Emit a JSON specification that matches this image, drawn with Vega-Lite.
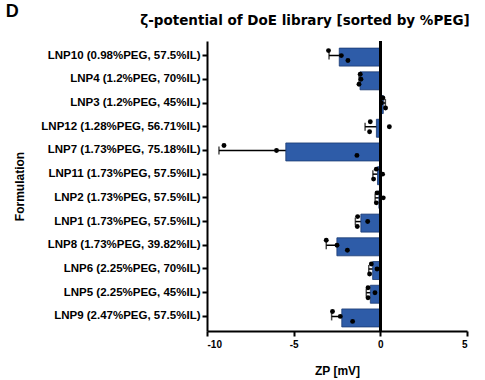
{
  "$schema": "https://vega.github.io/schema/vega-lite/v6.json",
  "padding": {"left": 5, "top": 2, "right": 5, "bottom": 5},
  "config": {"font": "Liberation Sans", "view": {"stroke": null}},
  "title": {"text": "D", "anchor": "start", "frame": "bounds", "fontSize": 18, "fontWeight": "bold", "offset": -7, "dx": -8, "color": "black"},
  "datasets": {
    "reps": [
      {"formulation": "LNP10 (0.98%PEG, 57.5%IL)", "rep": 1, "zp": -2.99},
      {"formulation": "LNP10 (0.98%PEG, 57.5%IL)", "rep": 2, "zp": -2.25},
      {"formulation": "LNP10 (0.98%PEG, 57.5%IL)", "rep": 3, "zp": -1.87},
      {"formulation": "LNP4 (1.2%PEG, 70%IL)", "rep": 1, "zp": -1.16},
      {"formulation": "LNP4 (1.2%PEG, 70%IL)", "rep": 2, "zp": -1.12},
      {"formulation": "LNP4 (1.2%PEG, 70%IL)", "rep": 3, "zp": -1.23},
      {"formulation": "LNP3 (1.2%PEG, 45%IL)", "rep": 1, "zp": 0.15},
      {"formulation": "LNP3 (1.2%PEG, 45%IL)", "rep": 2, "zp": 0.06},
      {"formulation": "LNP3 (1.2%PEG, 45%IL)", "rep": 3, "zp": 0.30},
      {"formulation": "LNP12 (1.28%PEG, 56.71%IL)", "rep": 1, "zp": -0.58},
      {"formulation": "LNP12 (1.28%PEG, 56.71%IL)", "rep": 2, "zp": 0.52},
      {"formulation": "LNP12 (1.28%PEG, 56.71%IL)", "rep": 3, "zp": -0.62},
      {"formulation": "LNP7 (1.73%PEG, 75.18%IL)", "rep": 1, "zp": -9.02},
      {"formulation": "LNP7 (1.73%PEG, 75.18%IL)", "rep": 2, "zp": -5.99},
      {"formulation": "LNP7 (1.73%PEG, 75.18%IL)", "rep": 3, "zp": -1.35},
      {"formulation": "LNP11 (1.73%PEG, 57.5%IL)", "rep": 1, "zp": -0.23},
      {"formulation": "LNP11 (1.73%PEG, 57.5%IL)", "rep": 2, "zp": 0.13},
      {"formulation": "LNP11 (1.73%PEG, 57.5%IL)", "rep": 3, "zp": -0.39},
      {"formulation": "LNP2 (1.73%PEG, 57.5%IL)", "rep": 1, "zp": -0.19},
      {"formulation": "LNP2 (1.73%PEG, 57.5%IL)", "rep": 2, "zp": 0.17},
      {"formulation": "LNP2 (1.73%PEG, 57.5%IL)", "rep": 3, "zp": -0.23},
      {"formulation": "LNP1 (1.73%PEG, 57.5%IL)", "rep": 1, "zp": -1.31},
      {"formulation": "LNP1 (1.73%PEG, 57.5%IL)", "rep": 2, "zp": -0.73},
      {"formulation": "LNP1 (1.73%PEG, 57.5%IL)", "rep": 3, "zp": -1.33},
      {"formulation": "LNP8 (1.73%PEG, 39.82%IL)", "rep": 1, "zp": -3.12},
      {"formulation": "LNP8 (1.73%PEG, 39.82%IL)", "rep": 2, "zp": -2.50},
      {"formulation": "LNP8 (1.73%PEG, 39.82%IL)", "rep": 3, "zp": -1.90},
      {"formulation": "LNP6 (2.25%PEG, 70%IL)", "rep": 1, "zp": -0.52},
      {"formulation": "LNP6 (2.25%PEG, 70%IL)", "rep": 2, "zp": -0.19},
      {"formulation": "LNP6 (2.25%PEG, 70%IL)", "rep": 3, "zp": -0.62},
      {"formulation": "LNP5 (2.25%PEG, 45%IL)", "rep": 1, "zp": -0.71},
      {"formulation": "LNP5 (2.25%PEG, 45%IL)", "rep": 2, "zp": -0.31},
      {"formulation": "LNP5 (2.25%PEG, 45%IL)", "rep": 3, "zp": -0.71},
      {"formulation": "LNP9 (2.47%PEG, 57.5%IL)", "rep": 1, "zp": -2.76},
      {"formulation": "LNP9 (2.47%PEG, 57.5%IL)", "rep": 2, "zp": -2.31},
      {"formulation": "LNP9 (2.47%PEG, 57.5%IL)", "rep": 3, "zp": -1.60}
    ],
    "errs": [
      {"formulation": "LNP10 (0.98%PEG, 57.5%IL)", "end": -2.96},
      {"formulation": "LNP4 (1.2%PEG, 70%IL)", "end": -1.23},
      {"formulation": "LNP3 (1.2%PEG, 45%IL)", "end": 0.29},
      {"formulation": "LNP12 (1.28%PEG, 56.71%IL)", "end": -0.88},
      {"formulation": "LNP7 (1.73%PEG, 75.18%IL)", "end": -9.31},
      {"formulation": "LNP11 (1.73%PEG, 57.5%IL)", "end": -0.43},
      {"formulation": "LNP2 (1.73%PEG, 57.5%IL)", "end": -0.30},
      {"formulation": "LNP1 (1.73%PEG, 57.5%IL)", "end": -1.44},
      {"formulation": "LNP8 (1.73%PEG, 39.82%IL)", "end": -3.12},
      {"formulation": "LNP6 (2.25%PEG, 70%IL)", "end": -0.67},
      {"formulation": "LNP5 (2.25%PEG, 45%IL)", "end": -0.81},
      {"formulation": "LNP9 (2.47%PEG, 57.5%IL)", "end": -2.81}
    ]
  },
  "vconcat": [
    {
      "width": 260,
      "height": 290,
      "title": {"text": "ζ-potential of DoE library [sorted by %PEG]", "font": "DejaVu Sans", "fontSize": 13.5, "fontWeight": "bold", "dx": -32, "dy": -9, "color": "black"},
      "data": {"name": "reps"},
      "layer": [
        {
          "data": {"name": "errs"},
          "mark": {"type": "rule", "color": "black", "strokeWidth": 1.5},
          "encoding": {
            "y": {"field": "formulation", "type": "nominal", "sort": ["LNP10 (0.98%PEG, 57.5%IL)", "LNP4 (1.2%PEG, 70%IL)", "LNP3 (1.2%PEG, 45%IL)", "LNP12 (1.28%PEG, 56.71%IL)", "LNP7 (1.73%PEG, 75.18%IL)", "LNP11 (1.73%PEG, 57.5%IL)", "LNP2 (1.73%PEG, 57.5%IL)", "LNP1 (1.73%PEG, 57.5%IL)", "LNP8 (1.73%PEG, 39.82%IL)", "LNP6 (2.25%PEG, 70%IL)", "LNP5 (2.25%PEG, 45%IL)", "LNP9 (2.47%PEG, 57.5%IL)"], "title": "Formulation"},
            "x": {"field": "end", "type": "quantitative", "title": "ZP [mV]"},
            "x2": {"datum": 0}
          }
        },
        {
          "data": {"name": "errs"},
          "mark": {"type": "tick", "color": "black", "thickness": 1.5, "size": 8},
          "encoding": {
            "y": {"field": "formulation", "type": "nominal", "sort": ["LNP10 (0.98%PEG, 57.5%IL)", "LNP4 (1.2%PEG, 70%IL)", "LNP3 (1.2%PEG, 45%IL)", "LNP12 (1.28%PEG, 56.71%IL)", "LNP7 (1.73%PEG, 75.18%IL)", "LNP11 (1.73%PEG, 57.5%IL)", "LNP2 (1.73%PEG, 57.5%IL)", "LNP1 (1.73%PEG, 57.5%IL)", "LNP8 (1.73%PEG, 39.82%IL)", "LNP6 (2.25%PEG, 70%IL)", "LNP5 (2.25%PEG, 45%IL)", "LNP9 (2.47%PEG, 57.5%IL)"], "title": "Formulation"},
            "x": {"field": "end", "type": "quantitative", "title": "ZP [mV]"}
          }
        },
        {
          "mark": {"type": "bar", "color": "#2E5CA8", "stroke": "#1B3A72", "strokeWidth": 0.8},
          "encoding": {
            "y": {"field": "formulation", "type": "nominal", "sort": ["LNP10 (0.98%PEG, 57.5%IL)", "LNP4 (1.2%PEG, 70%IL)", "LNP3 (1.2%PEG, 45%IL)", "LNP12 (1.28%PEG, 56.71%IL)", "LNP7 (1.73%PEG, 75.18%IL)", "LNP11 (1.73%PEG, 57.5%IL)", "LNP2 (1.73%PEG, 57.5%IL)", "LNP1 (1.73%PEG, 57.5%IL)", "LNP8 (1.73%PEG, 39.82%IL)", "LNP6 (2.25%PEG, 70%IL)", "LNP5 (2.25%PEG, 45%IL)", "LNP9 (2.47%PEG, 57.5%IL)"],
              "scale": {"paddingInner": 0.37, "paddingOuter": 0.3},
              "title": "Formulation",
              "axis": {"domainColor": "black", "domainWidth": 2, "tickColor": "black", "tickWidth": 2, "tickSize": 5, "labelFontSize": 11.5, "labelFontWeight": "bold", "labelColor": "black", "labelPadding": 2, "titleFontSize": 12, "titleFontWeight": "bold", "titleColor": "black", "titlePadding": 14}},
            "x": {"aggregate": "mean", "field": "zp", "type": "quantitative", "title": "ZP [mV]",
              "scale": {"domain": [-10, 5], "nice": false},
              "axis": {"values": [-10, -5, 0, 5], "labelExpr": "replace(datum.label, '−', '-')", "grid": false, "domainColor": "black", "domainWidth": 2, "tickColor": "black", "tickWidth": 2, "tickSize": 5, "labelFontSize": 10, "labelFontWeight": "bold", "labelColor": "black", "labelPadding": 3, "titleFontSize": 12, "titleFontWeight": "bold", "titleColor": "black", "titlePadding": 16}}
          }
        },
        {
          "mark": {"type": "rule", "color": "black", "strokeWidth": 2},
          "encoding": {"x": {"datum": 0, "type": "quantitative"}}
        },
        {
          "mark": {"type": "point", "filled": true, "color": "black", "size": 24, "opacity": 1},
          "encoding": {
            "y": {"field": "formulation", "type": "nominal", "sort": ["LNP10 (0.98%PEG, 57.5%IL)", "LNP4 (1.2%PEG, 70%IL)", "LNP3 (1.2%PEG, 45%IL)", "LNP12 (1.28%PEG, 56.71%IL)", "LNP7 (1.73%PEG, 75.18%IL)", "LNP11 (1.73%PEG, 57.5%IL)", "LNP2 (1.73%PEG, 57.5%IL)", "LNP1 (1.73%PEG, 57.5%IL)", "LNP8 (1.73%PEG, 39.82%IL)", "LNP6 (2.25%PEG, 70%IL)", "LNP5 (2.25%PEG, 45%IL)", "LNP9 (2.47%PEG, 57.5%IL)"], "title": "Formulation"},
            "yOffset": {"field": "rep", "type": "nominal"},
            "x": {"field": "zp", "type": "quantitative", "title": "ZP [mV]"}
          }
        }
      ]
    }
  ]
}
